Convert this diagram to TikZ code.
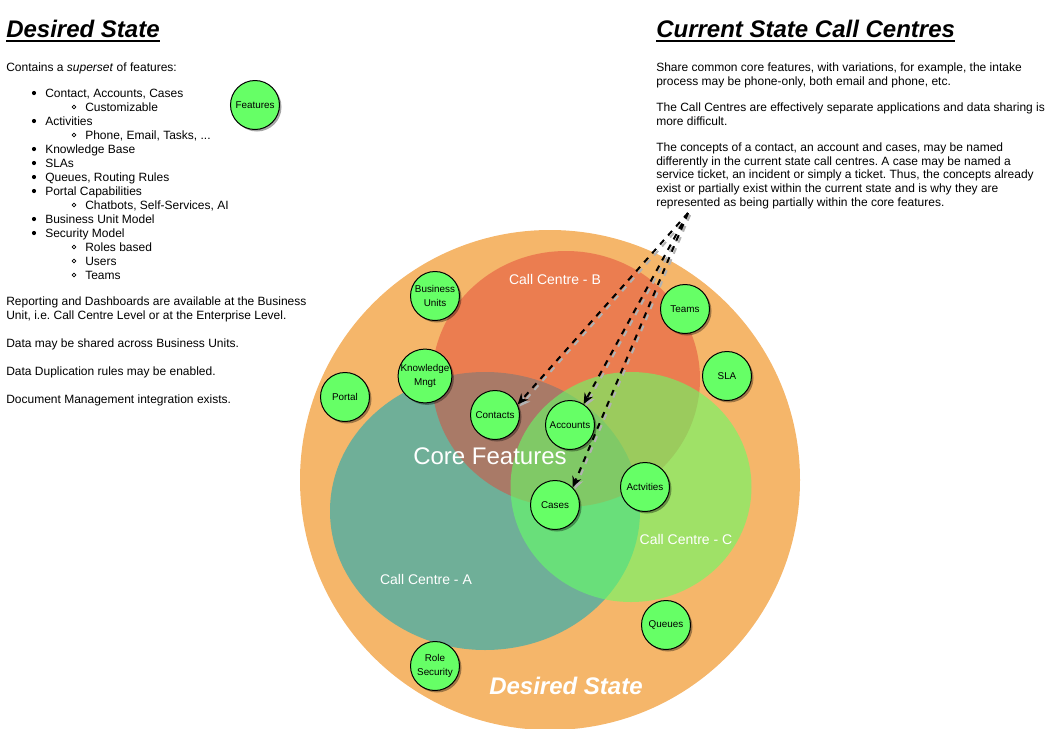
\documentclass[tikz,border=0pt]{standalone}
\usepackage{fontspec}
\setmainfont{Liberation Sans}
\usetikzlibrary{arrows.meta, shadows}
\frenchspacing

\definecolor{desiredorange}{HTML}{F5B66A}
\definecolor{ccateal}{HTML}{6FAF98}
\definecolor{ccbred}{HTML}{E34638}
\definecolor{cccgreen}{HTML}{66FF66}
\definecolor{featgreen}{HTML}{66FF66}

\tikzset{
  feature/.style={circle, draw=black, line width=0.75pt, fill=featgreen,
    minimum size=36.75pt, inner sep=0pt, align=center,
    font=\fontsize{7.4}{10.5}\selectfont,
    drop shadow={shadow xshift=1.5pt, shadow yshift=-1.5pt, opacity=0.35, fill=black}},
  bodytext/.style={anchor=base west, inner sep=0pt, font=\fontsize{9}{10.5}\selectfont},
  heading/.style={anchor=base west, inner sep=0pt, font=\fontsize{18}{20}\selectfont\bfseries\itshape},
  venntext/.style={text=white, inner sep=0pt, font=\fontsize{10.5}{12}\selectfont},
  link/.style={draw=black, line width=1.5pt, dash pattern=on 4.5pt off 4.5pt,
    -{Stealth[length=8pt, width=7pt]}},
  linkshadow/.style={link, draw=black!30},
}

\begin{document}
\begin{tikzpicture}[x=0.75pt, y=-0.75pt]
  \useasboundingbox (0,0) rectangle (1051,729);
  \clip (0,0) rectangle (1051,729);

  % venn circles
  \fill[desiredorange] (550,480) ellipse [x radius=250, y radius=250];
  \fill[ccateal] (485,511) ellipse [x radius=155, y radius=139];
  \fill[ccbred, fill opacity=0.5] (566,379) ellipse [x radius=134, y radius=128];
  \fill[cccgreen, fill opacity=0.6] (631,487) ellipse [x radius=120.5, y radius=115];

  \node[venntext] (ccb) at (555,279) {Call Centre - B};
  \node[venntext] (cca) at (426,579) {Call Centre - A};
  \node[venntext] (ccc) at (686,539) {Call Centre - C};
  \node[venntext, font=\fontsize{18}{20}\selectfont] (core) at (490,456) {Core Features};
  \node[venntext, font=\fontsize{18}{20}\selectfont\bfseries\itshape] (desired) at (566,686) {Desired State};

  % feature circles
  \node[feature] (features) at (255,105) {Features};
  \node[feature] (busunits) at (435,296) {Business\\Units};
  \node[feature] (knowledge) at (425,376) {Knowledge\\Mngt};
  \node[feature] (portal) at (345,397) {Portal};
  \node[feature] (contacts) at (495,415) {Contacts};
  \node[feature] (accounts) at (570,425) {Accounts};
  \node[feature] (teams) at (685,309) {Teams};
  \node[feature] (sla) at (727,376) {SLA};
  \node[feature] (cases) at (555,505) {Cases};
  \node[feature] (activities) at (645,487) {Actvities};
  \node[feature] (queues) at (666,625) {Queues};
  \node[feature] (rolesec) at (435,666) {Role\\Security};

  % arrows from the text
  \coordinate (src) at (688,213);
  \foreach \t in {contacts.25, accounts.57, cases.45} {
    \draw[linkshadow, transform canvas={xshift=1.5pt, yshift=-1.5pt}] (src) -- (\t);
    \draw[link] (src) -- (\t);
  }

  % left text
  \node[heading] (dtitle) at (6,37) {Desired State};
  \draw[line width=1.5pt] ([yshift=-3pt]dtitle.base west) -- ([yshift=-3pt]dtitle.base east);
  \node[bodytext] (contains) at (6,71) {Contains a \textit{superset} of features:};
  \foreach \y/\t in {97/{Contact, Accounts, Cases}, 125/Activities, 153/Knowledge Base,
      167/SLAs, 181/{Queues, Routing Rules}, 195/Portal Capabilities,
      223/Business Unit Model, 237/Security Model} {
    \fill (34,\y-4) circle (2.1);
    \node[bodytext] (item\y) at (45,\y) {\t};
  }
  \foreach \y/\t in {111/Customizable, 209/{Chatbots, Self-Services, AI},
      251/Roles based, 265/Users, 279/Teams} {
    \draw[line width=0.6pt] (74,\y-4) circle (1.9);
    \node[bodytext] (sub\y) at (85,\y) {\t};
  }
  \draw[line width=0.6pt] (74,135) circle (1.9);
  \node[bodytext] (sub139) at (85,139) {Phone, Email, Tasks, ...};
  \foreach \y/\t in {305/Reporting and Dashboards are available at the Business,
      319/{Unit, i.e. Call Centre Level or at the Enterprise Level.},
      347/Data may be shared across Business Units.,
      375/Data Duplication rules may be enabled.,
      403/Document Management integration exists.} {
    \node[bodytext] (left\y) at (6,\y) {\t};
  }

  % right text
  \node[heading] (ctitle) at (656,37) {Current State Call Centres};
  \draw[line width=1.5pt] ([yshift=-3pt]ctitle.base west) -- ([yshift=-3pt]ctitle.base east);
  \foreach \y/\t in {71.5/{Share common core features, with variations, for example, the intake},
      85.5/{process may be phone-only, both email and phone, etc.},
      111.5/The Call Centres are effectively separate applications and data sharing is,
      125.5/more difficult.,
      151/{The concepts of a contact, an account and cases, may be named},
      165/differently in the current state call centres. A case may be named a,
      178.5/{service ticket, an incident or simply a ticket. Thus, the concepts already},
      192.5/exist or partially exist within the current state and is why they are,
      206/represented as being partially within the core features.} {
    \node[bodytext] (right\y) at (656,\y) {\t};
  }
\end{tikzpicture}
\end{document}
